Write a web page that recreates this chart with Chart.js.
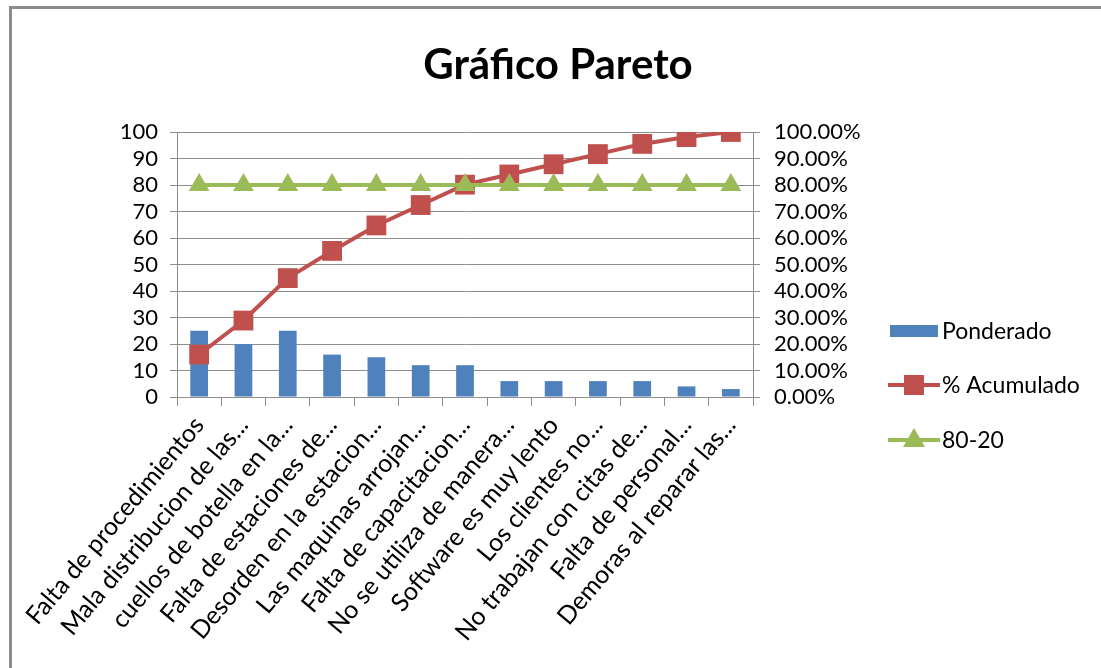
<!DOCTYPE html>
<html>
<head>
<meta charset="utf-8">
<script src="https://cdn.jsdelivr.net/npm/chart.js@4.4.1/dist/chart.umd.min.js"></script>
<style>
  html, body { margin: 0; padding: 0; background: #fff; overflow: hidden; }
  canvas { display: block; }
</style>
</head>
<body>
<canvas id="paretoChart" width="1101" height="668"></canvas>
<script>
// Causas (eje X)
const categories = [
    'Falta de procedimientos',
    'Mala distribucion de las...',
    'cuellos de botella en la...',
    'Falta de estaciones de...',
    'Desorden en la estacion...',
    'Las maquinas arrojan...',
    'Falta de capacitacion...',
    'No se utiliza de manera...',
    'Software es muy lento',
    'Los clientes no...',
    'No trabajan con citas de...',
    'Falta de personal...',
    'Demoras al reparar las...'
];

// Ponderado (eje izquierdo)
const ponderado = [25, 20, 25, 16, 15, 12, 12, 6, 6, 6, 6, 4, 3];

// % Acumulado (eje derecho, en %)
const acumulado = [16.03, 28.85, 44.87, 55.13, 64.74, 72.44, 80.13, 83.97, 87.82, 91.67, 95.51, 98.08, 100];

// Linea 80-20
const linea8020 = [80, 80, 80, 80, 80, 80, 80, 80, 80, 80, 80, 80, 80];

const FONT = 'Lato';
const GRID = '#8e8e8e';

// marco, titulo y leyenda dibujados a mano
const decorPlugin = {
    id: 'decor',
    beforeDraw(chart) {
        const ctx = chart.ctx;
        ctx.save();
        ctx.fillStyle = '#fff';
        ctx.fillRect(0, 0, chart.width, chart.height);
        ctx.fillStyle = '#8c8c8c';
        ctx.fillRect(9, 6, chart.width - 9, 3);
        ctx.fillRect(9, 6, 3, chart.height - 6);
        ctx.restore();
    },
    afterDraw(chart) {
        const ctx = chart.ctx;
        ctx.save();
        ctx.fillStyle = '#000';
        ctx.font = 'bold 42px ' + FONT;
        ctx.textAlign = 'center';
        ctx.textBaseline = 'middle';
        ctx.fillText('Gráfico Pareto', 558, 65);

        const items = [
            { text: 'Ponderado', y: 331, kind: 'bar' },
            { text: '% Acumulado', y: 385, kind: 'rect', color: '#c0504d' },
            { text: '80-20', y: 440, kind: 'triangle', color: '#9bbb59' }
        ];
        ctx.font = '23px ' + FONT;
        items.forEach(it => {
            if (it.kind === 'bar') {
                ctx.fillStyle = '#4f81bd';
                ctx.fillRect(890, it.y - 6, 48, 12);
            } else {
                ctx.strokeStyle = it.color;
                ctx.lineWidth = 4;
                ctx.beginPath();
                ctx.moveTo(888, it.y);
                ctx.lineTo(940, it.y);
                ctx.stroke();
                ctx.fillStyle = it.color;
                if (it.kind === 'rect') {
                    ctx.fillRect(904, it.y - 10, 20, 20);
                } else {
                    ctx.beginPath();
                    ctx.moveTo(914, it.y - 12);
                    ctx.lineTo(925, it.y + 7);
                    ctx.lineTo(903, it.y + 7);
                    ctx.closePath();
                    ctx.fill();
                }
            }
            ctx.fillStyle = '#000';
            ctx.textAlign = 'left';
            ctx.fillText(it.text, 942, it.y + 1);
        });
        ctx.restore();
    }
};

document.addEventListener('DOMContentLoaded', function () {
    const ctx = document.getElementById('paretoChart');
    new Chart(ctx, {
        type: 'bar',
        data: {
            labels: categories,
            datasets: [
                {
                    type: 'line',
                    label: '80-20',
                    data: linea8020,
                    yAxisID: 'y1',
                    borderColor: '#9bbb59',
                    backgroundColor: '#9bbb59',
                    borderWidth: 4,
                    pointStyle: 'triangle',
                    pointRadius: 12,
                    pointBorderWidth: 0,
                    order: 0
                },
                {
                    type: 'line',
                    label: '% Acumulado',
                    data: acumulado,
                    yAxisID: 'y1',
                    borderColor: '#c0504d',
                    backgroundColor: '#c0504d',
                    borderWidth: 4,
                    pointStyle: 'rect',
                    pointRadius: 14,
                    pointBorderWidth: 0,
                    order: 1
                },
                {
                    label: 'Ponderado',
                    data: ponderado,
                    yAxisID: 'y',
                    backgroundColor: '#4f81bd',
                    barPercentage: 0.4,
                    categoryPercentage: 1,
                    order: 2
                }
            ]
        },
        options: {
            responsive: false,
            animation: false,
            layout: { padding: { left: 117, right: 228, top: 132, bottom: 0 } },
            plugins: {
                legend: { display: false },
                tooltip: { enabled: false },
                title: { display: false }
            },
            scales: {
                x: {
                    grid: { display: true, offset: true, drawOnChartArea: false, drawTicks: true, tickLength: 9, color: GRID },
                    border: { display: true, color: GRID },
                    ticks: { color: '#000', minRotation: 50, maxRotation: 50, autoSkip: false, padding: 5,
                             font: { family: FONT, size: 25 } },
                    afterFit: s => { s.height = 271; }
                },
                y: {
                    position: 'left',
                    min: 0, max: 100,
                    ticks: { stepSize: 10, autoSkip: false, color: '#000', padding: 12, font: { family: FONT, size: 22 } },
                    grid: { color: GRID, tickLength: 7 },
                    border: { display: true, color: GRID },
                    afterFit: s => { s.width = 60; }
                },
                y1: {
                    position: 'right',
                    min: 0, max: 100,
                    ticks: { stepSize: 10, autoSkip: false, color: '#000', padding: 14, font: { family: FONT, size: 22 },
                             callback: v => v.toFixed(2) + '%' },
                    grid: { drawOnChartArea: false, color: GRID, tickLength: 7 },
                    border: { display: true, color: GRID },
                    afterFit: s => { s.width = 120; }
                }
            }
        },
        plugins: [decorPlugin]
    });
});
</script>
</body>
</html>
